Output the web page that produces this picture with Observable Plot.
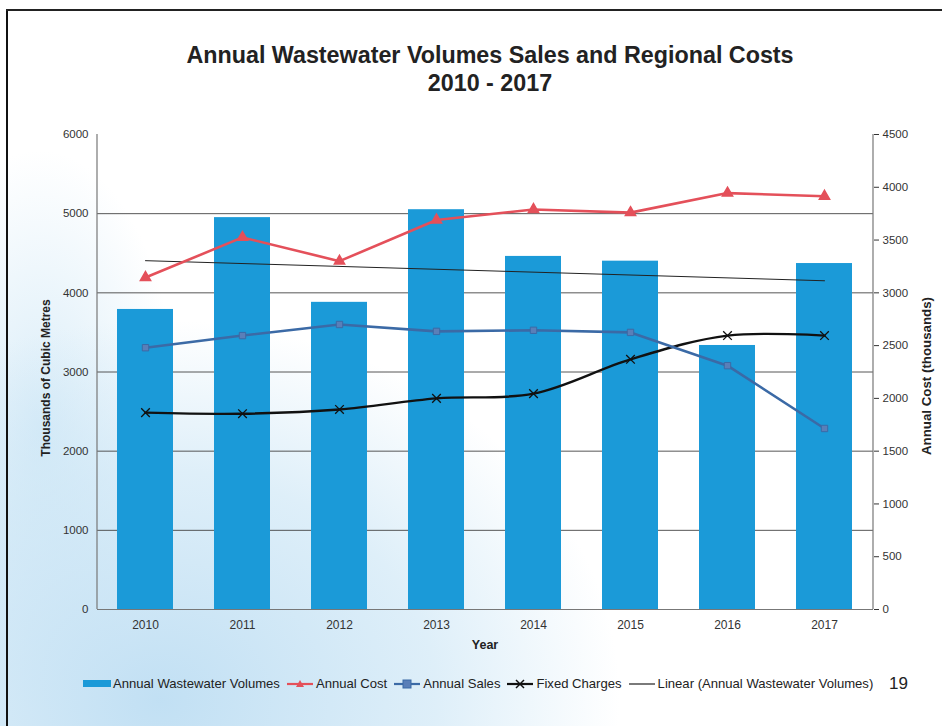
<!DOCTYPE html>
<html>
<head>
<meta charset="utf-8">
<script src="https://cdn.jsdelivr.net/npm/d3@7"></script>
<script src="https://cdn.jsdelivr.net/npm/@observablehq/plot@0.6"></script>
<style>
  html, body { margin: 0; padding: 0; }
  body { width: 942px; height: 726px; position: relative; overflow: hidden;
    font-family: "Liberation Sans", Arial, sans-serif; background: #fff; }
  #bg { position: absolute; left: 0; top: 0; width: 942px; height: 726px;
    background:
      radial-gradient(ellipse 460px 380px at 160px 700px, rgba(190,222,243,0.95), rgba(200,228,245,0.6) 60%, rgba(255,255,255,0) 100%),
      radial-gradient(ellipse 140px 280px at 40px 430px, rgba(200,228,245,0.7), rgba(255,255,255,0) 100%);
  }
  #frameL { position: absolute; left: 6px; top: 9px; width: 2px; height: 717px; background: #111; }
  #frameT { position: absolute; left: 6px; top: 9px; width: 936px; height: 2px; background: #222; }
  #title { position: absolute; left: 85px; width: 810px; top: 41px; text-align: center;
    font-weight: bold; font-size: 23.3px; line-height: 28px; color: #222; }
  #chart { position: absolute; left: 0; top: 120px; }
  .ylab { position: absolute; font-weight: bold; color: #222; white-space: nowrap; }
  #yl { left: 46px; top: 378px; font-size: 12px; transform: translate(-50%, -50%) rotate(-90deg); }
  #yr { left: 926px; top: 376px; font-size: 13.3px; transform: translate(-50%, -50%) rotate(-90deg); }
  #xl { left: 485px; top: 645px; font-size: 12.5px; transform: translate(-50%, -50%); }
  #legend { position: absolute; left: 83px; top: 676px; font-size: 13.1px; color: #222;
    display: flex; align-items: center; white-space: nowrap; }
  #legend .item { display: flex; align-items: center; margin-right: 6px; }
  #legend svg { margin-right: 2px; }
  #pg { position: absolute; left: 889px; top: 674px; font-size: 17px; color: #222; }
</style>
</head>
<body>
<div id="bg"></div>
<div id="frameL"></div>
<div id="frameT"></div>
<div id="title">Annual Wastewater Volumes Sales and Regional Costs<br>2010 - 2017</div>
<div id="chart"></div>
<div class="ylab" id="yl">Thousands of Cubic Metres</div>
<div class="ylab" id="yr">Annual Cost (thousands)</div>
<div class="ylab" id="xl">Year</div>
<div id="legend"></div>
<div id="pg">19</div>
<script>
// ---- data ----
const years = ["2010", "2011", "2012", "2013", "2014", "2015", "2016", "2017"];
const volumes = [3790, 4950, 3880, 5050, 4460, 4400, 3335, 4370];       // left axis, thousands m3
const annualCost = [3145, 3525, 3300, 3690, 3790, 3760, 3945, 3915];    // right axis
const annualSales = [2480, 2595, 2700, 2635, 2645, 2625, 2310, 1715];   // right axis
const fixedCharges = [1865, 1855, 1895, 2000, 2045, 2370, 2595, 2595];  // right axis
const leftTicks = [0, 1000, 2000, 3000, 4000, 5000, 6000];
const rightTicks = [0, 500, 1000, 1500, 2000, 2500, 3000, 3500, 4000, 4500];
const gridTicks = [1000, 2000, 3000, 4000, 5000];

const leftMax = 6000, rightMax = 4500;
const k = leftMax / rightMax; // map right-axis values to left scale

// Linear trend of volumes (least squares, as in Excel's "Linear" trendline)
const n = volumes.length;
const mx = (n - 1) / 2;
const my = d3.mean(volumes);
const slope = d3.sum(volumes, (v, i) => (i - mx) * (v - my)) / d3.sum(volumes, (v, i) => (i - mx) ** 2);
const trend = years.map((y, i) => ({year: y, value: my + slope * (i - mx)}));

const bars = years.map((y, i) => ({year: y, value: volumes[i]}));
const cost = years.map((y, i) => ({year: y, value: annualCost[i] * k}));
const sales = years.map((y, i) => ({year: y, value: annualSales[i] * k}));
const fixed = years.map((y, i) => ({year: y, value: fixedCharges[i] * k}));

const barColor = "#1b9ad8";
const costColor = "#e4505a";
const salesColor = "#3b6aa6";
const fixedColor = "#111";

const chart = Plot.plot({
  width: 942,
  height: 539,
  marginLeft: 97,
  marginRight: 69,
  marginTop: 14,
  marginBottom: 50,
  style: {background: "transparent", fontFamily: "Liberation Sans, Arial, sans-serif", fontSize: "11px", color: "#333"},
  x: {domain: years, paddingInner: 0.42, paddingOuter: 0.21, label: null},
  y: {domain: [0, leftMax], label: null},
  marks: [
    Plot.ruleY(gridTicks, {stroke: "#444", strokeWidth: 0.9}),
    Plot.barY(bars, {x: "year", y: "value", fill: barColor}),
    Plot.ruleY([0], {stroke: "#777", strokeWidth: 1.2}),
    Plot.axisX({tickSize: 0, tickPadding: 11, label: null, fontSize: 12}),
    Plot.axisY({ticks: leftTicks, tickFormat: d => String(d), tickSize: 0, tickPadding: 9, label: null, fontSize: 11.5}),
    Plot.axisY({anchor: "right", ticks: rightTicks.map(v => v * k), tickFormat: d => String(Math.round(d / k)),
      tickSize: 5, tickPadding: 4, label: null, fontSize: 11.5}),
    Plot.lineY(trend.filter((d, i) => i === 0 || i === n - 1), {x: "year", y: "value", stroke: "#222", strokeWidth: 1}),
    Plot.lineY(fixed, {x: "year", y: "value", stroke: fixedColor, strokeWidth: 2.4, curve: "catmull-rom"}),
    Plot.dot(fixed, {x: "year", y: "value", symbol: "times", r: 4, stroke: fixedColor, strokeWidth: 1.3}),
    Plot.lineY(sales, {x: "year", y: "value", stroke: salesColor, strokeWidth: 2.6}),
    Plot.dot(sales, {x: "year", y: "value", symbol: "square", r: 3.6, fill: "#5a7fb8", stroke: salesColor, strokeWidth: 1}),
    Plot.lineY(cost, {x: "year", y: "value", stroke: costColor, strokeWidth: 2.6}),
    Plot.dot(cost, {x: "year", y: "value", symbol: "triangle", r: 3.8, fill: costColor, stroke: costColor})
  ]
});
document.getElementById("chart").appendChild(chart);

// vertical axis lines (left, right) from the scales
const sx = chart.scale("x"), sy = chart.scale("y");
const x0 = sx.range[0], x1 = sx.range[1];
const yb = sy.apply(0), yt = sy.apply(leftMax);
const svg = d3.select(chart);
const g = svg.append("g").attr("stroke", "#777").attr("stroke-width", 1.2);
g.append("line").attr("x1", x0).attr("x2", x0).attr("y1", yt).attr("y2", yb);
g.append("line").attr("x1", x1).attr("x2", x1).attr("y1", yt).attr("y2", yb);

// legend
const legendItems = [
  {label: "Annual Wastewater Volumes", kind: "bar", color: barColor},
  {label: "Annual Cost", kind: "triangle", color: costColor},
  {label: "Annual Sales", kind: "square", color: salesColor},
  {label: "Fixed Charges", kind: "times", color: fixedColor},
  {label: "Linear (Annual Wastewater Volumes)", kind: "line", color: "#222"}
];
const legend = d3.select("#legend");
for (const it of legendItems) {
  const item = legend.append("div").attr("class", "item");
  const s = item.append("svg").attr("width", 28).attr("height", 12);
  if (it.kind === "bar") {
    s.append("rect").attr("x", 0).attr("y", 2).attr("width", 28).attr("height", 7).attr("fill", it.color);
  } else {
    s.append("line").attr("x1", 1).attr("x2", 27).attr("y1", 6).attr("y2", 6)
      .attr("stroke", it.color).attr("stroke-width", it.kind === "line" ? 1.2 : 2.2);
    if (it.kind === "triangle") s.append("path").attr("d", "M14,2L18,9L10,9Z").attr("fill", it.color);
    if (it.kind === "square") s.append("rect").attr("x", 10).attr("y", 2).attr("width", 8).attr("height", 8).attr("fill", "#5a7fb8").attr("stroke", it.color);
    if (it.kind === "times") s.append("path").attr("d", "M10,2L18,10M18,2L10,10").attr("stroke", it.color).attr("stroke-width", 1.5);
  }
  item.append("span").text(it.label);
}
</script>
</body>
</html>
